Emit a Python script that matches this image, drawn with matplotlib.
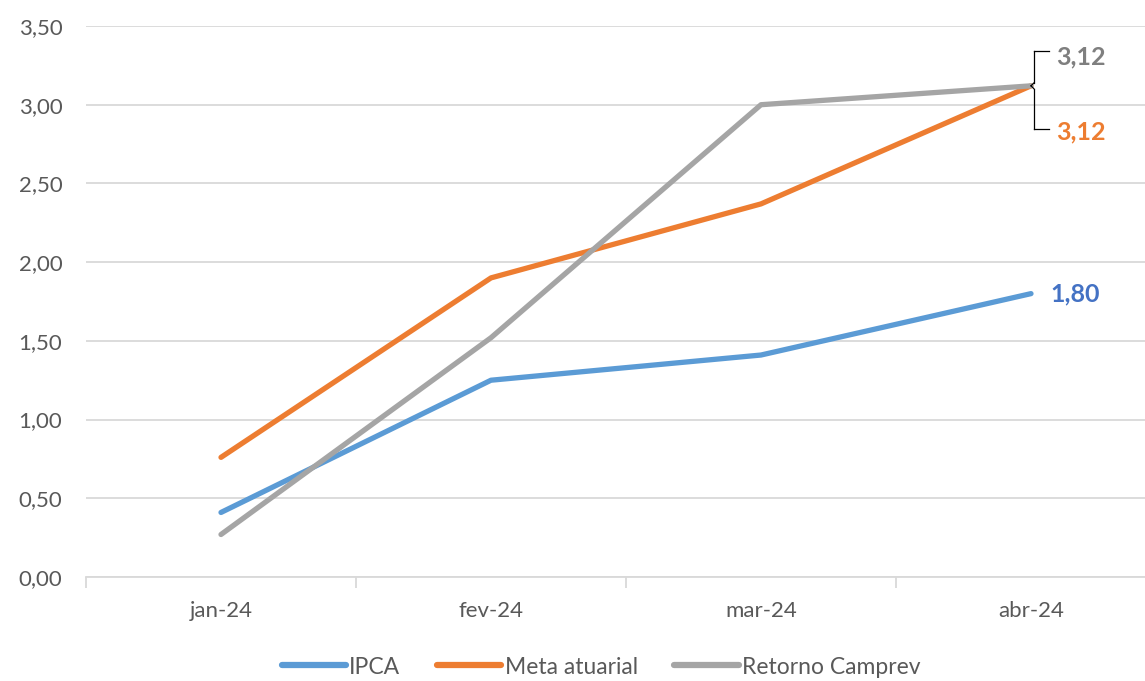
import matplotlib
matplotlib.use("Agg")
import matplotlib.pyplot as plt
from matplotlib.ticker import FuncFormatter, FixedLocator

plt.rcParams['font.family'] = ['Lato', 'DejaVu Sans']

months = ["jan-24", "fev-24", "mar-24", "abr-24"]
ipca = [0.41, 1.25, 1.41, 1.80]
meta = [0.76, 1.90, 2.37, 3.12]
retorno = [0.27, 1.52, 3.00, 3.12]
series_names = ["IPCA", "Meta atuarial", "Retorno Camprev"]
colors = ["#5B9BD5", "#ED7D31", "#A5A5A5"]

W, H = 1145, 681
fig = plt.figure(figsize=(W / 100, H / 100), dpi=100)
ax = fig.add_axes([86 / W, (H - 577) / H, (W - 86) / W, 551 / H])

x = list(range(len(months)))
for vals, name, c in zip([ipca, meta, retorno], series_names, colors):
    ax.plot(x, vals, color=c, lw=3.8, solid_capstyle='round', label=name, zorder=3)

fmt = lambda v: f"{v:.2f}".replace('.', ',')
ax.set_ylim(0, 3.5)
ax.set_xlim(-0.5, -0.5 + (W - 86) / 270)
ax.set_yticks([i * 0.5 for i in range(8)])
ax.yaxis.set_major_formatter(FuncFormatter(lambda v, p: fmt(v)))
ax.grid(axis='y', color='#D9D9D9', lw=1.3)
ax.set_axisbelow(True)
for s in ['left', 'right', 'top']:
    ax.spines[s].set_visible(False)
ax.spines['bottom'].set_color('#D9D9D9')
ax.spines['bottom'].set_linewidth(1.3)
ax.tick_params(axis='y', length=0, pad=17, labelsize=16, labelcolor='#595959')
ax.set_xticks(x)
ax.set_xticklabels(months)
ax.tick_params(axis='x', length=0, pad=17, labelsize=16, labelcolor='#595959')
ax.xaxis.set_minor_locator(FixedLocator([i - 0.5 for i in range(len(months) + 1)]))
ax.tick_params(axis='x', which='minor', length=8, color='#D9D9D9', width=1.3)

# data labels
last = len(months) - 1
ax.annotate(fmt(ipca[-1]), (last, ipca[-1]), xytext=(14, 0),
            textcoords='offset points', ha='left', va='center', fontsize=18,
            fontweight='bold', color='#4472C4')
ax.annotate(fmt(retorno[-1]), (last, retorno[-1]), xytext=(18, 21),
            textcoords='offset points', ha='left', va='center', fontsize=18,
            fontweight='bold', color='#7F7F7F')
ax.annotate(fmt(meta[-1]), (last, meta[-1]), xytext=(18, -33),
            textcoords='offset points', ha='left', va='center', fontsize=18,
            fontweight='bold', color='#ED7D31')

# bracket callout (offsets in points relative to last data point)
brk = [((2, 25), (13, 25)), ((2, 25), (2, 2)), ((2, 2), (0, 0)), ((0, 0), (2, -2)),
       ((2, -2), (2, -31)), ((2, -31), (13, -31))]
d0 = ax.transData.transform((last, retorno[-1]))
s = 100 / 72
for p0, p1 in brk:
    xs = [d0[0] + p0[0] * s, d0[0] + p1[0] * s]
    ys = [d0[1] + p0[1] * s, d0[1] + p1[1] * s]
    fig.add_artist(plt.Line2D(xs, ys, transform=None, color='black', lw=0.9))

leg = fig.legend(loc='center', bbox_to_anchor=(601 / W, (H - 667) / H), ncol=3, frameon=False,
                 fontsize=16.5, handlelength=2.8, columnspacing=1.6, handletextpad=0.15,
                 labelcolor='#595959')
for lh in leg.get_lines():
    lh.set_linewidth(4.5)

fig.savefig("out.png", dpi=100)
